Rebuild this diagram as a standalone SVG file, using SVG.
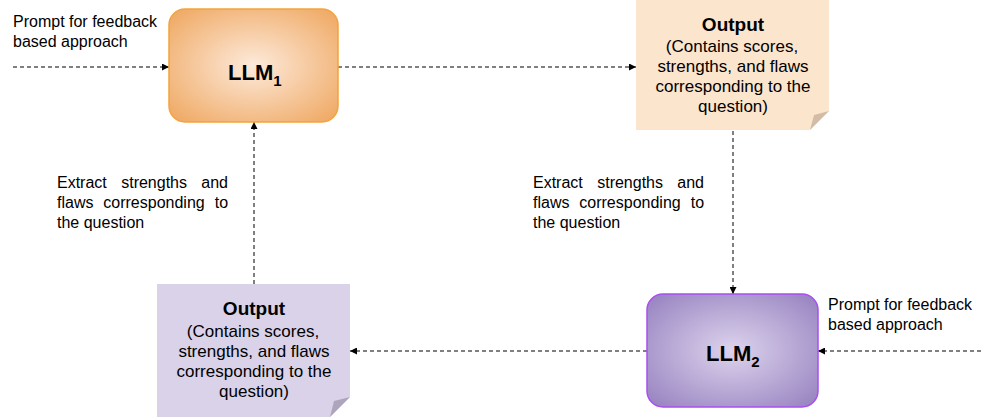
<svg xmlns="http://www.w3.org/2000/svg" width="981" height="417" viewBox="0 0 981 417">
<style>
text{font-family:"Liberation Sans",Arial,sans-serif;fill:#000}
.lbl{font-size:16px}
.out{font-size:17px;text-anchor:middle}
.ttl{font-size:19px;font-weight:bold;text-anchor:middle}
.llm{font-size:22px;font-weight:bold}
.sub{font-size:15px;font-weight:bold}
.edge{fill:none;stroke:#000;stroke-width:1;stroke-dasharray:4 3}
</style>
<defs>
<radialGradient id="gOrange" cx="50%" cy="50%" r="68%">
<stop offset="0" stop-color="#fdeadb"/>
<stop offset="1" stop-color="#efa862"/>
</radialGradient>
<radialGradient id="gPurple" cx="50%" cy="50%" r="68%">
<stop offset="0" stop-color="#ddd3ed"/>
<stop offset="1" stop-color="#9783c0"/>
</radialGradient>
<marker id="ah" viewBox="0 0 10 10" refX="10" refY="5" markerWidth="7" markerHeight="7" markerUnits="userSpaceOnUse" orient="auto">
<path d="M0,0 L10,5 L0,10 Z" fill="#000"/>
</marker>
</defs>

<g id="connectors">
<line class="edge" x1="13" y1="67" x2="169" y2="67" marker-end="url(#ah)"/>
<line class="edge" x1="338" y1="67" x2="636" y2="67" marker-end="url(#ah)"/>
<line class="edge" x1="733" y1="131" x2="733" y2="294" marker-end="url(#ah)"/>
<line class="edge" x1="981" y1="351" x2="818" y2="351" marker-end="url(#ah)"/>
<line class="edge" x1="647" y1="351" x2="350" y2="351" marker-end="url(#ah)"/>
<line class="edge" x1="254" y1="284" x2="254" y2="122" marker-end="url(#ah)"/>
</g>

<g id="llm1">
<rect x="169" y="9" width="169" height="113" rx="16" fill="url(#gOrange)" stroke="#f5a33a" stroke-width="1.5"/>
<text x="228" y="80" class="llm">LLM<tspan class="sub" dy="6">1</tspan></text>
</g>

<g id="output1">
<path d="M636,-1 H829 V111 L810,130 H636 Z" fill="#fce5cd"/>
<path d="M829,111 L810,130 L814,115 Z" fill="#d2bca6"/>
<text x="733" y="31" class="ttl">Output</text>
<text x="732" y="51.5" class="out">(Contains scores,</text>
<text x="733" y="71.5" class="out">strengths, and flaws</text>
<text x="733" y="91.5" class="out">corresponding to the</text>
<text x="733" y="111.5" class="out">question)</text>
</g>

<g id="llm2">
<rect x="647" y="294" width="171" height="113" rx="16" fill="url(#gPurple)" stroke="#a94ff0" stroke-width="1.5"/>
<text x="706" y="361" class="llm">LLM<tspan class="sub" dy="6">2</tspan></text>
</g>

<g id="output2">
<path d="M157,284 H350 V397 L330,417 H157 Z" fill="#d9d2e9"/>
<path d="M350,397 L330,417 L334,401 Z" fill="#aca5bb"/>
<text x="254" y="315" class="ttl">Output</text>
<text x="253" y="336.5" class="out">(Contains scores,</text>
<text x="254" y="357" class="out">strengths, and flaws</text>
<text x="254" y="376.5" class="out">corresponding to the</text>
<text x="254" y="396.5" class="out">question)</text>
</g>

<g id="prompt-left">
<text class="lbl" x="13" y="27">Prompt for feedback</text>
<text class="lbl" x="13" y="47">based approach</text>
</g>

<g id="prompt-right">
<text class="lbl" x="828" y="310">Prompt for feedback</text>
<text class="lbl" x="828" y="330">based approach</text>
</g>

<g id="extract-left">
<text class="lbl" y="188"><tspan x="57">Extract</tspan><tspan x="121.2">strengths</tspan><tspan x="201.3">and</tspan></text>
<text class="lbl" y="208"><tspan x="57">flaws</tspan><tspan x="103.3">corresponding</tspan><tspan x="214.7">to</tspan></text>
<text class="lbl" x="57" y="228">the question</text>
</g>

<g id="extract-right">
<text class="lbl" y="188"><tspan x="533">Extract</tspan><tspan x="597.2">strengths</tspan><tspan x="677.3">and</tspan></text>
<text class="lbl" y="208"><tspan x="533">flaws</tspan><tspan x="579.3">corresponding</tspan><tspan x="690.7">to</tspan></text>
<text class="lbl" x="533" y="228">the question</text>
</g>
</svg>
